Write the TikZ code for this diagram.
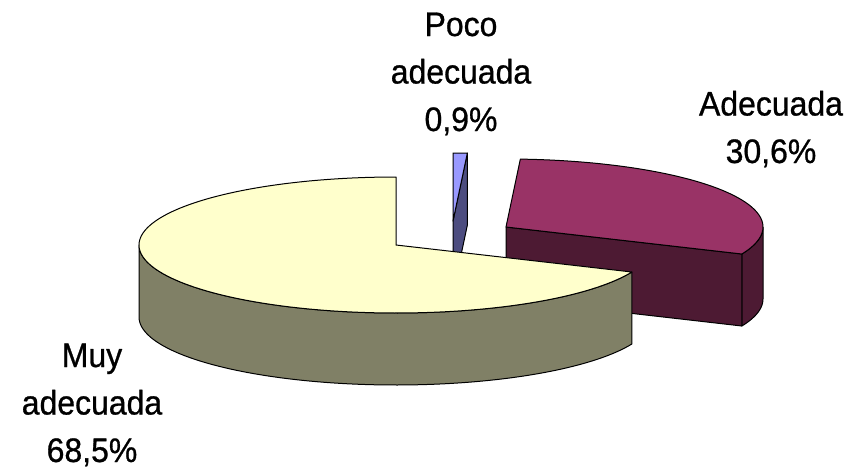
\documentclass[tikz,border=0pt]{standalone}
\usepackage{fontspec}
\setmainfont{Liberation Sans}[FakeBold=0.8,FakeStretch=0.94]
\usetikzlibrary{calc}
\definecolor{yelTop}{HTML}{FFFFCC}
\definecolor{yelSide}{HTML}{808066}
\definecolor{purTop}{HTML}{993366}
\definecolor{purSide}{HTML}{4D1A33}
\definecolor{bluTop}{HTML}{9999FF}
\definecolor{bluSide}{HTML}{4D4D80}
\begin{document}
\begin{tikzpicture}[x=1pt,y=-1pt,line width=1pt,line join=round,
  face/.style={draw=black},
  lbl/.style={font=\fontsize{34}{47.5}\selectfont,align=center,anchor=base,inner sep=0pt}]
\useasboundingbox (0,0) rectangle (863,469);
\def\RA{257}\def\RB{68}\def\DH{72}
% ---- Poco adecuada (blue), exploded towards the back
\coordinate (bc) at (453,221);
\coordinate (bo1) at ({453+\RA*cos(86.8)},{221-\RB*sin(86.8)});
\coordinate (bo2) at (453,{221-\RB});
\filldraw[face,fill=bluSide] (bc) -- (bo1) -- ++(0,\DH) -- ($(bc)+(0,\DH)$) -- cycle;
\filldraw[face,fill=bluTop] (bc) -- (bo2) -- (bo1) -- cycle;
% ---- Adecuada (purple), exploded to the right
\coordinate (pc) at (506,227);
\coordinate (po) at ({506+\RA*cos(-23.4)},{227-\RB*sin(-23.4)});
\filldraw[face,fill=purSide] plot[domain=-23.4:0,samples=40,variable=\t] ({506+\RA*cos(\t)},{227-\RB*sin(\t)})
  -- plot[domain=0:-23.4,samples=40,variable=\t] ({506+\RA*cos(\t)},{227+\DH-\RB*sin(\t)}) -- cycle;
\filldraw[face,fill=purSide] (pc) -- (po) -- ++(0,\DH) -- ($(pc)+(0,\DH)$) -- cycle;
\filldraw[face,fill=purTop] (pc) -- plot[domain=86.8:-23.4,samples=120,variable=\t] ({506+\RA*cos(\t)},{227-\RB*sin(\t)}) -- cycle;
% ---- Muy adecuada (yellow), in front
\coordinate (yc) at (396,245);
\filldraw[face,fill=yelSide] plot[domain=180:336.6,samples=150,variable=\t] ({396+\RA*cos(\t)},{245-\RB*sin(\t)})
  -- plot[domain=336.6:180,samples=150,variable=\t] ({396+\RA*cos(\t)},{245+\DH-\RB*sin(\t)}) -- cycle;
\filldraw[face,fill=yelTop] (yc) -- plot[domain=90:336.6,samples=200,variable=\t] ({396+\RA*cos(\t)},{245-\RB*sin(\t)}) -- cycle;
% ---- labels (anchor=base is the baseline of the last line)
\node[lbl] (poco) at (461,131) {Poco\\adecuada\\0,9\%};
\node[lbl] (adec) at (771,163) {Adecuada\\30,6\%};
\node[lbl] (muy) at (92,462) {Muy\\adecuada\\68,5\%};
\end{tikzpicture}
\end{document}
